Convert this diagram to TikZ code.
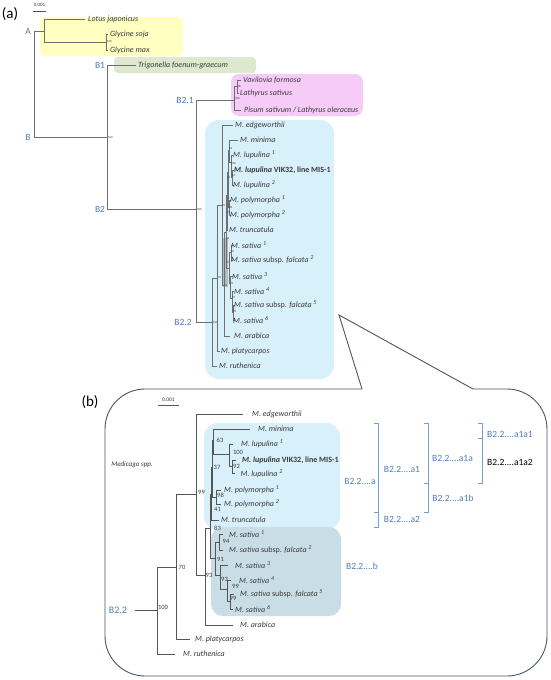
\documentclass[tikz,border=0pt]{standalone}
\usepackage{fontspec}
\setmainfont{Carlito}
\definecolor{lineA}{HTML}{6E6E6E}
\definecolor{lineB}{HTML}{555555}
\definecolor{txt}{HTML}{3A3A3A}
\definecolor{blab}{HTML}{4F7DB8}
\definecolor{brc}{HTML}{6FA0D8}
\definecolor{yel}{HTML}{FFFFC2}
\definecolor{grn}{HTML}{DDE8CF}
\definecolor{pnk}{HTML}{F7CBF7}
\definecolor{cyn}{HTML}{D8F0FA}
\definecolor{gbl}{HTML}{C9DDE6}
\definecolor{hil}{HTML}{AEBFC8}
\definecolor{frame}{HTML}{4A5666}
\begin{document}
\begin{tikzpicture}[x=1pt,y=-1pt,
  treeA/.style={draw=lineA, line width=0.7pt},
  treeB/.style={draw=lineB, line width=0.9pt},
  sp/.style={anchor=west, inner sep=0pt, text=txt, font=\fontsize{8}{9}\selectfont\itshape},
  bl/.style={inner sep=0pt, text=blab, font=\fontsize{9.5}{10}\selectfont},
  supB/.style={inner sep=0pt, text=txt, font=\fontsize{6.5}{7}\selectfont},
  supA/.style={inner sep=0pt, text=txt, font=\fontsize{3}{3}\selectfont},
  brk/.style={draw=brc, line width=0.8pt},
  lbl/.style={inner sep=0pt, text=black, font=\fontsize{15}{16}\selectfont}]
\useasboundingbox (0,0) rectangle (550,680);
\fill[white] (0,0) rectangle (550,680);

% ---------------- (a) ----------------
\node[lbl] (la) at (10,14) {(a)};
\node[inner sep=0pt, text=txt, font=\fontsize{5}{5}\selectfont] (sca) at (39.5,5) {0.001};
\draw[lineB, line width=0.8pt] (33,11) -- (46,11);

\fill[yel, rounded corners=6] (40,17) rectangle (183,56);
\fill[grn, rounded corners=4] (114,57) rectangle (256,73);
\fill[pnk, rounded corners=8] (231,74) rectangle (363,116);
\fill[cyn, rounded corners=14] (205,120) rectangle (334,379);
\fill[hil] (222,238) rectangle (228,287);

% root and A / B
\draw[treeA] (44,31) -- (34,31) -- (34,137) -- (107,137);
\draw[treeA] (85,19) -- (44,19) -- (44,42) -- (106,42);
\draw[treeA] (108,34) -- (106,34) -- (106,50) -- (108,50);
\draw[treeA] (136,65) -- (107,65) -- (107,209) -- (196,209);
\draw[treeA] (234,100) -- (196,100) -- (196,322) -- (212,322);
\draw[treeA] (237,86) -- (234,86) -- (234,110) -- (241,110);
\draw[treeA] (241,80) -- (237,80) -- (237,93) -- (239,93);

\node[bl] (A) at (28,31) {A};
\node[bl] (B) at (28,137) {B};
\node[bl] (B1) at (100,65) {B1};
\node[bl] (B2) at (100,209) {B2};
\node[bl] (B21) at (185,100) {B2.1};
\node[bl] (B22) at (183,322) {B2.2};

\node[sp] (lot) at (88,19) {Lotus japonicus};
\node[sp] (gso) at (110,34) {Glycine soja};
\node[sp] (gma) at (110,50) {Glycine max};
\node[sp] (tri) at (138,65) {Trigonella foenum-graecum};
\node[sp] (vav) at (243,80) {Vavilovia formosa};
\node[sp] (lat) at (240,93) {Lathyrus sativus};
\node[sp] (pis) at (244,110) {Pisum sativum / Lathyrus oleraceus};

\node[supA, anchor=west] at (107,42) {100};
\node[supA, anchor=west] at (108,138) {100};
\node[supA, anchor=west] at (197,210) {100};
\node[supA, anchor=west] at (213,323) {100};
\node[supA, anchor=west] at (237.5,86) {98};
\node[supA, anchor=west] at (235,99) {100};

% Medicago (a)
\draw[treeA] (217,278) -- (212,278) -- (212,366) -- (217,366);
\draw[treeA] (222,205) -- (217,205) -- (217,351) -- (220,351);
\draw[treeA] (233,125) -- (222,125) -- (222,285) -- (224,285);
\draw[treeA] (226,232) -- (224,232) -- (224,336) -- (230,336);
\draw[treeA] (227,195) -- (226,195) -- (226,268) -- (229,268);
\draw[treeA] (228,172) -- (227,172) -- (227,230) -- (228,230);
\draw[treeA] (229,150) -- (228,150) -- (228,207) -- (229,207);
\draw[treeA] (238,140) -- (229,140) -- (229,162) -- (231,162);
\draw[treeA] (233,155) -- (231,155) -- (231,177) -- (232,177);
\draw[treeA] (234,170) -- (232,170) -- (232,185) -- (234,185);
\draw[treeA] (231,200) -- (229,200) -- (229,215) -- (231,215);
\draw[treeA] (231,252) -- (229,252) -- (229,283) -- (230,283);
\draw[treeA] (233,245) -- (231,245) -- (231,260) -- (233,260);
\draw[treeA] (233,276) -- (230,276) -- (230,298) -- (232,298);
\draw[treeA] (234,291) -- (232,291) -- (232,312) -- (233,312);
\draw[treeA] (235,305) -- (233,305) -- (233,320) -- (235,320);

\node[sp] (ae) at (235,125) {M. edgeworthii};
\node[sp] (am) at (240,140) {M. minima};
\node[sp] (al1) at (233,155) {M. lupulina \textsuperscript{1}};
\node[sp] (av) at (234,170) {\bfseries M. lupulina \upshape VIK32, line MIS-1};
\node[sp] (al2) at (233,185) {M. lupulina \textsuperscript{2}};
\node[sp] (ap1) at (230,200) {M. polymorpha \textsuperscript{1}};
\node[sp] (ap2) at (230,215) {M. polymorpha \textsuperscript{2}};
\node[sp] (at) at (229,230) {M. truncatula};
\node[sp] (as1) at (231,245) {M. sativa \textsuperscript{1}};
\node[sp] (af2) at (231,260) {M. sativa \upshape subsp. \itshape falcata \textsuperscript{2}};
\node[sp] (as3) at (232,276) {M. sativa \textsuperscript{3}};
\node[sp] (as4) at (234,291) {M. sativa \textsuperscript{4}};
\node[sp] (af5) at (234,305) {M. sativa \upshape subsp. \itshape falcata \textsuperscript{5}};
\node[sp] (as6) at (233,320) {M. sativa \textsuperscript{6}};
\node[sp] (aar) at (234,336) {M. arabica};
\node[sp] (apl) at (221,351) {M. platycarpos};
\node[sp] (aru) at (219,366) {M. ruthenica};

\node[supA, anchor=west] at (229,148) {63};
\node[supA, anchor=west] at (231,164) {100};
\node[supA, anchor=west] at (232,176) {92};
\node[supA, anchor=west] at (227,178) {37};
\node[supA, anchor=west] at (229,207) {98};
\node[supA, anchor=west] at (227,213) {41};
\node[supA, anchor=west] at (226,238) {83};
\node[supA, anchor=west] at (231,252) {94};
\node[supA, anchor=west] at (226,263) {91};
\node[supA, anchor=west] at (230,284) {93};
\node[supA, anchor=west] at (232,298) {99};
\node[supA, anchor=west] at (233,312) {99};
\node[supA, anchor=west] at (218,278) {70};
\node[supA, anchor=west] at (222,206) {99};
\node[supA, anchor=west] at (224,286) {93};

% ---------------- callout frame ----------------
\draw[frame, line width=0.9pt, rounded corners=40] (362,389) -- (105,389) -- (105,676) -- (547,676) -- (547,389) -- (473,389);
\draw[frame, line width=0.9pt, line join=miter] (362,389) -- (339,315) -- (473,389);

% ---------------- (b) ----------------
\node[lbl] (lb) at (90,402) {(b)};
\node[inner sep=0pt, text=txt, font=\fontsize{5.5}{6}\selectfont] (scb) at (168.5,400) {0.001};
\draw[lineB, line width=0.9pt] (158,405.5) -- (179,405.5);

\fill[cyn, rounded corners=14] (204,423) rectangle (340,530);
\fill[gbl, rounded corners=12] (211,527) rectangle (341,616);

\node[inner sep=0pt, text=txt, font=\fontsize{7}{8}\selectfont\itshape] (med) at (132,465) {Medicago spp.};
\node[bl, font=\fontsize{10}{11}\selectfont] (B22b) at (118,610) {B2.2};

\draw[treeB] (135,610) -- (157,610);
\draw[treeB] (176,567) -- (157,567) -- (157,654) -- (175,654);
\draw[treeB] (196,494) -- (176,494) -- (176,639) -- (190,639);
\draw[treeB] (243,414) -- (196,414) -- (196,575) -- (205,575);
\draw[treeB] (210,528) -- (205,528) -- (205,625) -- (233,625);
\draw[treeB] (211,494) -- (210,494) -- (210,558) -- (215,558);
\draw[treeB] (212,467) -- (211,467) -- (211,520) -- (219,520);
\draw[treeB] (213,440) -- (212,440) -- (212,497) -- (216,497);
\draw[treeB] (250,429) -- (213,429) -- (213,454) -- (229,454);
\draw[treeB] (233,444) -- (229,444) -- (229,466) -- (232,466);
\draw[treeB] (236,460) -- (232,460) -- (232,473) -- (235,473);
\draw[treeB] (221,490) -- (216,490) -- (216,504) -- (221,504);
\draw[treeB] (219,542) -- (215,542) -- (215,575) -- (220,575);
\draw[treeB] (223,534) -- (219,534) -- (219,550) -- (223,550);
\draw[treeB] (228,565) -- (220,565) -- (220,589) -- (227,589);
\draw[treeB] (231,580) -- (227,580) -- (227,601) -- (230,601);
\draw[treeB] (234,594) -- (230,594) -- (230,609) -- (233,609);

\node[sp] (be) at (252,414) {M. edgeworthii};
\node[sp] (bm) at (258,429) {M. minima};
\node[sp] (bl1) at (241,444) {M. lupulina \textsuperscript{1}};
\node[sp] (bv) at (242,460) {\bfseries M. lupulina \upshape VIK32, line MIS-1};
\node[sp] (bl2) at (240.5,474) {M. lupulina \textsuperscript{2}};
\node[sp] (bp1) at (224,490) {M. polymorpha \textsuperscript{1}};
\node[sp] (bp2) at (224,504) {M. polymorpha \textsuperscript{2}};
\node[sp] (bt) at (221,520) {M. truncatula};
\node[sp] (bs1) at (229,534) {M. sativa \textsuperscript{1}};
\node[sp] (bf2) at (229,550) {M. sativa \upshape subsp. \itshape falcata \textsuperscript{2}};
\node[sp] (bs3) at (235,565) {M. sativa \textsuperscript{3}};
\node[sp] (bs4) at (239,580) {M. sativa \textsuperscript{4}};
\node[sp] (bf5) at (240,594) {M. sativa \upshape subsp. \itshape falcata \textsuperscript{5}};
\node[sp] (bs6) at (235,609) {M. sativa \textsuperscript{6}};
\node[sp] (bar) at (240,625) {M. arabica};
\node[sp] (bpl) at (195,639) {M. platycarpos};
\node[sp] (bru) at (183,654) {M. ruthenica};

\node[supB] (s63) at (220,440) {63};
\node[supB] (s100a) at (238,452.5) {100};
\node[supB] (s92) at (236.5,466.5) {92};
\node[supB] (s37) at (217,467) {37};
\node[supB] (s99a) at (201.5,492) {99};
\node[supB] (s98) at (220.5,495.5) {98};
\node[supB] (s41) at (217.5,509) {41};
\node[supB] (s83) at (217.5,528) {83};
\node[supB] (s94) at (226,541) {94};
\node[supB] (s91) at (220.5,559) {91};
\node[supB] (s93a) at (209,575) {93};
\node[supB] (s93b) at (224.5,579) {93};
\node[supB] (s99b) at (235.5,586) {99};
\node[supB] (s99c) at (233,598) {99};
\node[supB] (s70) at (182,567) {70};
\node[supB] (s100b) at (163,607) {100};

% brackets
\draw[brk] (374,423) -- (378,423) -- (378,527) -- (374,527);
\draw[brk] (374,512) -- (378,512);
\draw[brk] (424,423) -- (428,423) -- (428,512) -- (424,512);
\draw[brk] (424,483) -- (428,483);
\draw[brk] (478,423) -- (482,423) -- (482,483) -- (478,483);
\draw[brk] (478,438) -- (482,438);

\node[bl] (ga) at (360,481) {B2.2....a};
\node[bl] (ga1) at (402,469) {B2.2....a1};
\node[bl] (ga2) at (402,519) {B2.2....a2};
\node[bl] (ga1a) at (452.5,458) {B2.2....a1a};
\node[bl] (ga1b) at (453,498) {B2.2....a1b};
\node[bl] (ga1a1) at (510,434) {B2.2....a1a1};
\node[bl, text=black] (ga1a2) at (510,462) {B2.2....a1a2};
\node[bl] (gb) at (362,566) {B2.2....b};
\end{tikzpicture}
\end{document}
